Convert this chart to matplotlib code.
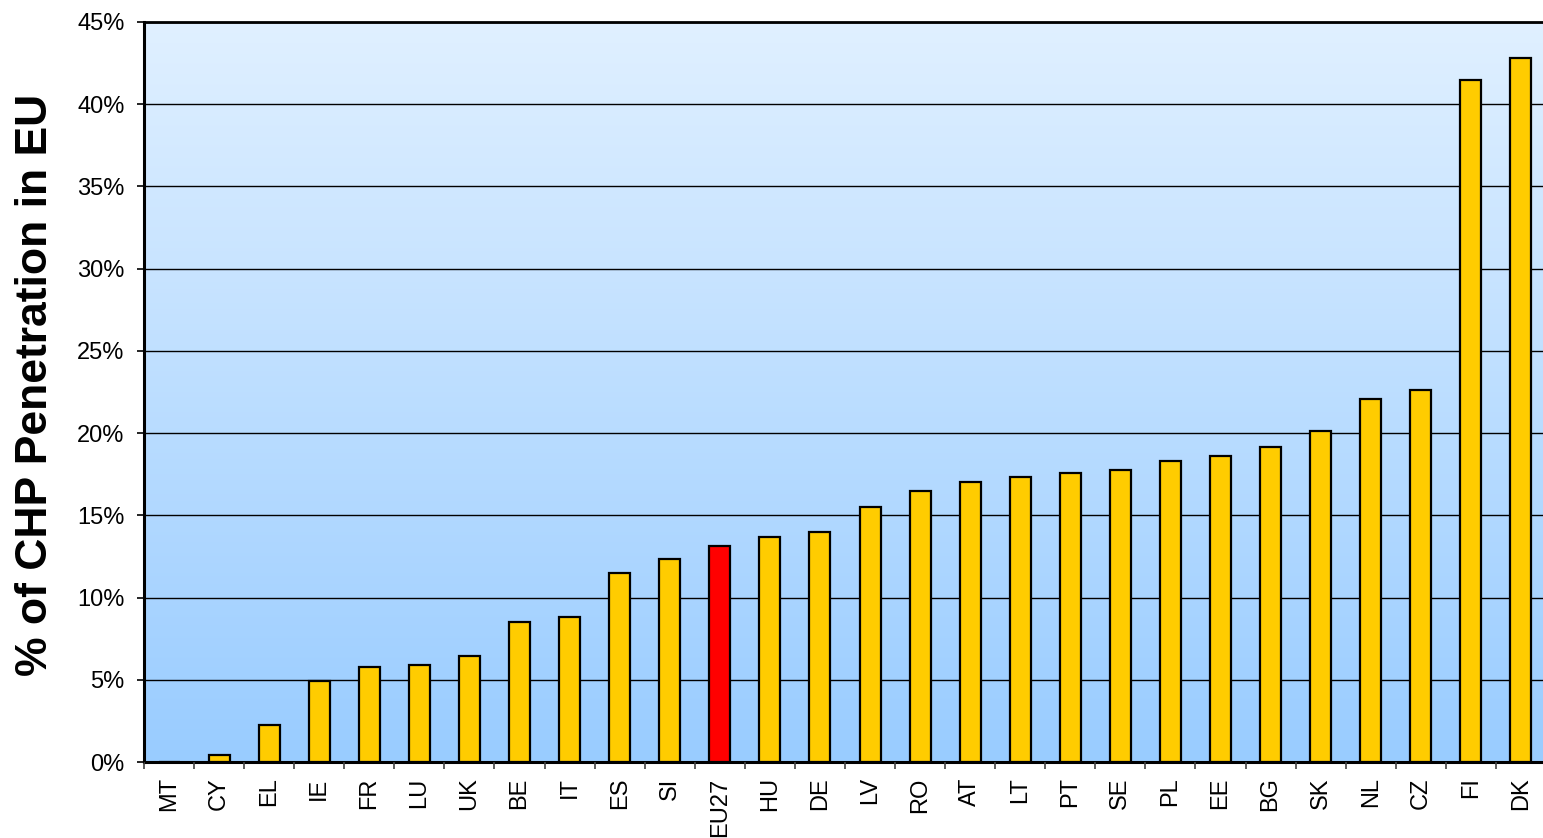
import matplotlib
matplotlib.use("Agg")
import matplotlib.pyplot as plt
import numpy as np
from matplotlib.colors import LinearSegmentedColormap
from matplotlib.ticker import FixedLocator, FuncFormatter

countries = ["MT", "CY", "EL", "IE", "FR", "LU", "UK", "BE", "IT", "ES", "SI", "EU27",
             "HU", "DE", "LV", "RO", "AT", "LT", "PT", "SE", "PL", "EE", "BG", "SK",
             "NL", "CZ", "FI", "DK"]
values = [0.0, 0.4, 2.25, 4.9, 5.75, 5.9, 6.45, 8.53, 8.8, 11.47, 12.32, 13.13,
          13.7, 13.98, 15.5, 16.5, 17.04, 17.34, 17.6, 17.77, 18.32, 18.58, 19.13, 20.12,
          22.07, 22.63, 41.5, 42.8]
highlight = "EU27"
yticks = [0, 5, 10, 15, 20, 25, 30, 35, 40, 45]
ylabel = "% of CHP Penetration in EU"

plt.rcParams['font.family'] = ['Liberation Sans', 'DejaVu Sans']

W, H = 1543, 838
fig = plt.figure(figsize=(W / 100, H / 100), dpi=100)

left, right_px, top_px, bottom_px = 144, 144 + 28 * 50.07, 22, 762
ax = fig.add_axes([left / W, (H - bottom_px) / H, (right_px - left) / W, (bottom_px - top_px) / H])

n = len(countries)
x = np.arange(n)
ax.set_xlim(-0.5, n - 0.5)
ax.set_ylim(0, 45)

# gradient background
cmap = LinearSegmentedColormap.from_list("bg", ["#99CCFF", "#E0F0FF"])
grad = np.linspace(0, 1, 256).reshape(-1, 1)
ax.imshow(grad, extent=(-0.5, n - 0.5, 0, 45), origin="lower", aspect="auto",
          cmap=cmap, zorder=0, interpolation="bicubic")

colors = ["#FF0000" if c == highlight else "#FFCC00" for c in countries]
ax.bar(x, values, width=0.42, color=colors, edgecolor="black", linewidth=1.6, zorder=3)

ax.set_yticks(yticks)
ax.yaxis.set_major_formatter(FuncFormatter(lambda v, p: f"{int(v)}%"))
ax.grid(axis="y", color="black", linewidth=1.0, zorder=1)
ax.set_axisbelow(False)
for gl in ax.get_ygridlines():
    gl.set_zorder(1)

ax.set_xticks(x)
ax.set_xticklabels(countries, rotation=90, fontsize=17)
ax.tick_params(axis="x", which="major", length=0, pad=11)
ax.xaxis.set_minor_locator(FixedLocator(np.arange(n + 1) - 0.5))
ax.tick_params(axis="x", which="minor", length=5, width=1.2, color="#444444")
ax.tick_params(axis="y", which="major", length=5, width=1.2, labelsize=17, pad=9)

for s in ["left", "bottom"]:
    ax.spines[s].set_linewidth(2.2)
ax.spines["top"].set_linewidth(2.0)
ax.spines["right"].set_visible(False)

ax.set_ylabel(ylabel, fontsize=32, fontweight="bold")
ax.yaxis.set_label_coords(-0.0628, 0.510)

fig.savefig("out.png", dpi=100)
